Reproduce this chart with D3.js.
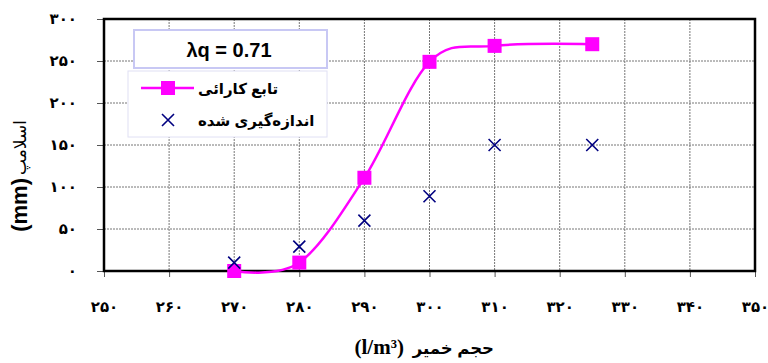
<!DOCTYPE html>
<html><head><meta charset="utf-8">
<script src="https://cdn.jsdelivr.net/npm/d3@7"></script>
<style>body{margin:0;background:#fff;}svg{display:block;}</style>
</head><body><svg id="c" width="768" height="363"></svg>
<script>
const fitX = [270, 280, 290, 300, 310, 325];
const fitY = [0, 10, 111, 249, 268, 270];
const measX = [270, 280, 290, 300, 310, 325];
const measY = [10, 29, 60, 89, 150, 150];
const xTicks = [250, 260, 270, 280, 290, 300, 310, 320, 330, 340, 350];
const yTicks = [0, 50, 100, 150, 200, 250, 300];
const seriesNames = ["تابع کارائی", "اندازه‌گیری شده"];
const annot = "λq = 0.71";
const xTitleFa = "حجم خمیر", xTitleUnit = "(l/m³)";
const yTitleFa = "اسلامپ", yTitleUnit = "(mm)";

const fa = n => String(n).replace(/\d/g, d => "۰۱۲۳۴۵۶۷۸۹"[+d]);
const svg = d3.select("#c");
const L = 104, R = 755, T = 19, B = 271;
const x = d3.scaleLinear().domain([250, 350]).range([L, R]);
const y = d3.scaleLinear().domain([0, 300]).range([B, T]);
const font = "'Liberation Sans','DejaVu Sans',Arial,sans-serif";
const serif = "'Liberation Serif','DejaVu Serif',serif";

// grid
svg.append("g").selectAll("line").data(xTicks.slice(1, -1)).join("line")
  .attr("x1", d => x(d)).attr("x2", d => x(d)).attr("y1", T).attr("y2", B)
  .attr("stroke", "#777").attr("stroke-width", 1).attr("stroke-dasharray", "2,1");
svg.append("g").selectAll("line").data(yTicks.slice(1, -1)).join("line")
  .attr("y1", d => y(d)).attr("y2", d => y(d)).attr("x1", L).attr("x2", R)
  .attr("stroke", "#777").attr("stroke-width", 1).attr("stroke-dasharray", "2,1");

// axes
const xa = svg.append("g").attr("transform", `translate(0,${B})`)
  .call(d3.axisBottom(x).tickValues(xTicks).tickFormat(fa).tickSize(6).tickPadding(24));
const ya = svg.append("g").attr("transform", `translate(${L},0)`)
  .call(d3.axisLeft(y).tickValues(yTicks).tickFormat(fa).tickSize(7).tickPadding(20));
[xa, ya].forEach(a => {
  a.select(".domain").remove();
  a.selectAll("line").attr("stroke", "#555");
  a.selectAll("text").attr("font-family", font).attr("font-weight", "bold")
   .attr("font-size", 15).attr("fill", "#000");
});

// frame
svg.append("rect").attr("x", L).attr("y", T).attr("width", R - L).attr("height", B - T)
  .attr("fill", "none").attr("stroke", "#000").attr("stroke-width", 2.5);

// fit curve
const pts = fitX.map((d, i) => [x(d), y(fitY[i])]);
svg.append("path").attr("d", d3.line().curve(d3.curveCatmullRom.alpha(0))(pts))
  .attr("fill", "none").attr("stroke", "#FF00FF").attr("stroke-width", 2.5);
svg.append("g").selectAll("rect").data(pts).join("rect")
  .attr("x", d => d[0] - 7).attr("y", d => d[1] - 7).attr("width", 14).attr("height", 14)
  .attr("fill", "#FF00FF");

// measured crosses
const cross = (g, cx, cy, s) => g.append("path")
  .attr("d", `M${cx - s},${cy - s}L${cx + s},${cy + s}M${cx - s},${cy + s}L${cx + s},${cy - s}`)
  .attr("stroke", "#000080").attr("stroke-width", 1.6).attr("fill", "none");
const mg = svg.append("g");
measX.forEach((d, i) => cross(mg, x(d), y(measY[i]), 6));

// annotation box
svg.append("rect").attr("x", 134).attr("y", 30).attr("width", 193).attr("height", 38)
  .attr("fill", "#fff").attr("stroke", "#c8c8f4").attr("stroke-width", 2);
svg.append("text").attr("x", 229).attr("y", 57).attr("text-anchor", "middle")
  .attr("font-family", font).attr("font-weight", "bold").attr("font-size", 20).text(annot);

// legend
svg.append("rect").attr("x", 128).attr("y", 71).attr("width", 199).attr("height", 66)
  .attr("fill", "#fff").attr("stroke", "#e0e0f4").attr("stroke-width", 1);
svg.append("line").attr("x1", 141).attr("x2", 194).attr("y1", 88).attr("y2", 88)
  .attr("stroke", "#FF00FF").attr("stroke-width", 2.5);
svg.append("rect").attr("x", 161).attr("y", 81).attr("width", 14).attr("height", 14).attr("fill", "#FF00FF");
cross(svg, 168, 120, 6);
seriesNames.forEach((n, i) => svg.append("text").attr("x", 198).attr("y", 94 + i * 32)
  .attr("font-family", font).attr("font-weight", "bold").attr("font-size", 15)
  .attr("direction", "rtl").attr("text-anchor", "end").text(n));

// x axis title
svg.append("text").attr("x", 494).attr("y", 354).attr("text-anchor", "end")
  .attr("font-family", font).attr("font-weight", "bold").attr("font-size", 16.5).text(xTitleFa);
svg.append("text").attr("x", 404).attr("y", 354).attr("text-anchor", "end")
  .attr("font-family", serif).attr("font-weight", "bold").attr("font-size", 21).text(xTitleUnit);

// y axis title
const yt = svg.append("g").attr("transform", "translate(27,0) rotate(-90)");
yt.append("text").attr("x", -178).attr("y", 0).attr("text-anchor", "end")
  .attr("font-family", font).attr("font-weight", "bold").attr("font-size", 22).text(yTitleUnit);
yt.append("text").attr("x", -175).attr("y", -1).attr("text-anchor", "start")
  .attr("font-family", font).attr("font-weight", "normal").attr("font-size", 17).text(yTitleFa);
</script></body></html>
